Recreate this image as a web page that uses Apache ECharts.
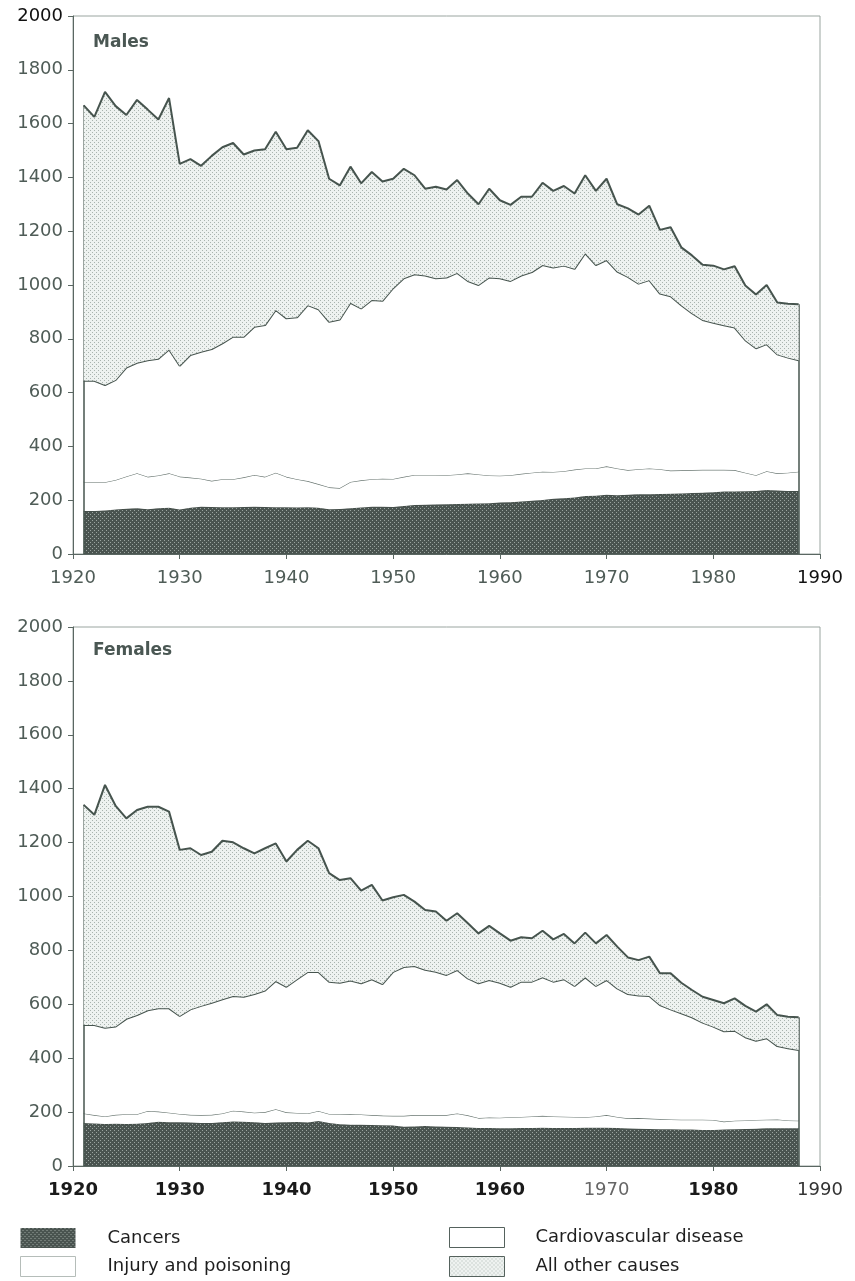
<!DOCTYPE html>
<html><head><meta charset="utf-8">
<script src="https://cdn.jsdelivr.net/npm/echarts@6/dist/echarts.min.js"></script>
<style>html,body{margin:0;padding:0;background:#fff}#c{width:855px;height:1281px}</style>
</head><body><div id="c"></div>
<script>
// ---- axis categories (years) ----
const axisYears = ['1920','1921','1922','1923','1924','1925','1926','1927','1928','1929',
'1930','1931','1932','1933','1934','1935','1936','1937','1938','1939',
'1940','1941','1942','1943','1944','1945','1946','1947','1948','1949',
'1950','1951','1952','1953','1954','1955','1956','1957','1958','1959',
'1960','1961','1962','1963','1964','1965','1966','1967','1968','1969',
'1970','1971','1972','1973','1974','1975','1976','1977','1978','1979',
'1980','1981','1982','1983','1984','1985','1986','1987','1988','1989','1990'];
const firstDataYear = '1921';
const lastDataYear = '1988';
const yTickValues = [0,200,400,600,800,1000,1200,1400,1600,1800,2000];
const causes = ['Cancers','Injury and poisoning','Cardiovascular disease','All other causes'];

// ---- Males, 1921-1988 ----
const maleCancers = [160,160,162,165,168,170,166,170,172,165,172,176,175,174,174,175,176,175,174,174,173,174,172,166,167,170,173,176,176,175,178,182,183,184,185,186,187,188,189,191,192,195,198,201,205,207,210,216,217,220,218,220,222,222,223,224,225,227,228,230,232,232,233,234,238,236,234,234];
const maleInjury = [108,107,105,110,120,130,121,122,128,123,112,104,97,104,104,110,118,112,128,113,105,97,88,82,78,98,101,102,104,104,109,112,111,110,108,110,113,108,103,100,101,103,104,105,100,101,104,102,101,106,100,92,93,96,92,86,86,85,85,83,81,80,69,59,70,64,68,72];
const maleCardio = [376,377,361,372,405,411,433,434,460,412,456,472,490,505,530,523,551,564,605,589,602,654,650,615,627,666,639,666,661,709,738,746,741,731,735,749,715,704,736,734,722,737,746,768,760,764,746,800,756,767,732,718,690,700,653,648,614,583,557,547,537,530,493,472,472,442,428,414];
const maleOther = [1024,981,1090,1018,939,977,932,889,935,750,728,691,718,729,720,677,655,654,663,629,630,650,625,532,498,506,465,476,444,407,407,368,323,340,327,345,325,300,330,290,283,293,280,306,285,296,280,290,276,302,250,255,257,277,237,257,215,215,205,212,208,228,203,200,220,193,200,208];

// ---- Females, 1921-1988 ----
const femaleCancers = [160,158,156,157,156,157,160,164,162,162,161,160,160,162,165,164,162,160,161,162,163,161,167,160,155,153,153,152,151,150,146,147,148,147,146,145,143,141,141,140,140,141,141,142,141,141,141,142,142,142,141,139,138,137,136,136,135,135,134,134,135,136,137,138,140,140,140,140];
const femaleInjury = [35,31,28,33,36,35,44,38,36,31,29,29,30,33,40,38,36,40,50,37,34,34,37,33,37,40,38,37,36,36,40,42,41,42,43,50,45,37,39,39,41,41,43,44,43,42,41,39,42,47,41,38,40,39,38,37,37,37,38,37,30,32,32,33,32,33,29,28];
const femaleCardio = [328,334,329,328,354,368,374,383,387,364,391,405,416,424,426,426,440,451,475,466,496,525,516,491,488,495,487,504,488,534,552,553,539,532,520,532,508,500,510,501,484,502,500,514,500,510,486,519,484,501,477,461,455,455,423,408,395,380,360,346,335,334,309,294,302,272,268,262];
const femaleOther = [817,780,901,818,744,761,755,748,730,616,598,560,560,588,570,551,522,528,511,465,480,487,459,403,381,380,344,350,310,277,268,239,222,223,201,211,205,185,201,183,171,165,161,173,157,168,158,166,158,167,155,136,131,146,118,134,113,101,96,99,104,120,116,108,126,115,117,122];

// ---- helpers ----
const startIdx = axisYears.indexOf(firstDataYear);
function pad(vals) {
  const out = axisYears.map(() => null);
  vals.forEach((v, i) => { out[startIdx + i] = v; });
  return out;
}
function pattern(bg, fg) {
  const c = document.createElement('canvas'); c.width = 4; c.height = 4;
  const g = c.getContext('2d');
  g.fillStyle = bg; g.fillRect(0, 0, 4, 4);
  g.fillStyle = fg; g.fillRect(0, 0, 1, 1); g.fillRect(2, 2, 1, 1);
  return { image: c, repeat: 'repeat' };
}
const darkPat = pattern('#4a5450', '#9aa49f');
const lightPat = pattern('#eef2f0', '#a9b3ae');
const lineCol = '#46544e';
const axisCol = '#5a6762';
const txtCol = '#4f5c57';
const FONT = 'DejaVu Sans';

function seriesFor(prefix, gi, c, inj, cv, oth) {
  const n = c.length - 1;
  const first = c[0] + inj[0] + cv[0] + oth[0];
  const last = c[n] + inj[n] + cv[n] + oth[n];
  const common = { type: 'line', stack: prefix, xAxisIndex: gi, yAxisIndex: gi, symbol: 'none', connectNulls: false, silent: true };
  return [
    Object.assign({}, common, { name: causes[0], data: pad(c), z: 2,
      lineStyle: { color: '#3f4944', width: 1 }, itemStyle: { color: darkPat }, areaStyle: { color: darkPat, opacity: 1 } }),
    Object.assign({}, common, { name: causes[1], data: pad(inj), z: 3,
      lineStyle: { color: '#6b7873', width: 1.2 }, itemStyle: { color: '#ffffff' }, areaStyle: { color: '#ffffff', opacity: 1 } }),
    Object.assign({}, common, { name: causes[2], data: pad(cv), z: 4,
      lineStyle: { color: lineCol, width: 2 }, itemStyle: { color: '#ffffff' }, areaStyle: { color: '#ffffff', opacity: 1 } }),
    Object.assign({}, common, { name: causes[3], data: pad(oth), z: 5,
      lineStyle: { color: lineCol, width: 2 }, itemStyle: { color: lightPat }, areaStyle: { color: lightPat, opacity: 1 },
      markLine: { silent: true, symbol: 'none', label: { show: false }, animation: false,
        lineStyle: { color: lineCol, width: 1.5, type: 'solid' },
        data: [
          [{ coord: [firstDataYear, 0] }, { coord: [firstDataYear, first] }],
          [{ coord: [lastDataYear, 0] }, { coord: [lastDataYear, last] }]
        ] } })
  ];
}

function xAxisFor(gi, rich, fmt) {
  return {
    type: 'category', gridIndex: gi, data: axisYears, boundaryGap: false,
    axisLine: { lineStyle: { color: axisCol, width: 1 } },
    axisTick: { interval: (i) => i % 10 === 0, length: 5, lineStyle: { color: axisCol } },
    axisLabel: { interval: (i) => i % 10 === 0, margin: 15, fontSize: 18, fontFamily: FONT, color: txtCol,
      formatter: fmt, rich: rich },
    splitLine: { show: false }
  };
}
function yAxisFor(gi, fmt, rich) {
  return {
    type: 'value', gridIndex: gi, min: yTickValues[0], max: yTickValues[yTickValues.length - 1], interval: 200,
    axisLine: { show: true, lineStyle: { color: axisCol, width: 1 } },
    axisTick: { show: true, length: 5, lineStyle: { color: axisCol } },
    axisLabel: { margin: 10, fontSize: 18, fontFamily: FONT, color: txtCol, formatter: fmt, rich: rich },
    splitLine: { show: false }
  };
}

const legendText = { fontSize: 18, fontFamily: FONT, color: '#1e1e1e' };
const chart = echarts.init(document.getElementById('c'), null, { renderer: 'canvas' });
chart.setOption({
  animation: false,
  backgroundColor: '#ffffff',
  title: [
    { text: 'Males', left: 88, top: 29, textStyle: { fontSize: 17, fontWeight: 'bold', color: '#4a5753', fontFamily: FONT } },
    { text: 'Females', left: 88, top: 637, textStyle: { fontSize: 17, fontWeight: 'bold', color: '#4a5753', fontFamily: FONT } }
  ],
  grid: [
    { left: 73, top: 16, width: 747, height: 538, show: true, borderColor: '#9aa5a0', borderWidth: 1, backgroundColor: 'transparent' },
    { left: 73, top: 627, width: 747, height: 539, show: true, borderColor: '#9aa5a0', borderWidth: 1, backgroundColor: 'transparent' }
  ],
  xAxis: [
    xAxisFor(0, { k: { color: '#111', fontSize: 18, fontFamily: FONT } },
      (v) => v === '1990' ? '{k|' + v + '}' : v),
    xAxisFor(1, {
      b: { color: '#1a1a1a', fontWeight: 'bold', fontSize: 18, fontFamily: FONT },
      n: { color: '#333', fontSize: 18, fontFamily: FONT },
      l: { color: '#666', fontSize: 18, fontFamily: FONT } },
      (v) => v === '1970' ? '{l|' + v + '}' : (v === '1990' ? '{n|' + v + '}' : '{b|' + v + '}'))
  ],
  yAxis: [
    yAxisFor(0, (v) => v === 2000 ? '{k|2000}' : String(v), { k: { color: '#111', fontSize: 18, fontFamily: FONT } }),
    yAxisFor(1, (v) => String(v), {})
  ],
  legend: [
    { orient: 'vertical', left: 20, bottom: 4, padding: 0, itemWidth: 55, itemHeight: 20, itemGap: 8, icon: 'rect',
      selectedMode: false,
      textStyle: Object.assign({ padding: [0, 0, 0, 27] }, legendText),
      data: [
        { name: causes[0], itemStyle: { color: darkPat, borderWidth: 0 } },
        { name: causes[1], itemStyle: { color: '#ffffff', borderColor: '#b5bdb9', borderWidth: 1 } }
      ] },
    { orient: 'vertical', left: 449, bottom: 4, padding: 0, itemWidth: 55, itemHeight: 20, itemGap: 8, icon: 'rect',
      selectedMode: false,
      textStyle: Object.assign({ padding: [0, 0, 0, 26] }, legendText),
      data: [
        { name: causes[2], itemStyle: { color: '#ffffff', borderColor: '#55625d', borderWidth: 1 } },
        { name: causes[3], itemStyle: { color: lightPat, borderColor: '#55625d', borderWidth: 1 } }
      ] }
  ],
  series: [].concat(
    seriesFor('m', 0, maleCancers, maleInjury, maleCardio, maleOther),
    seriesFor('f', 1, femaleCancers, femaleInjury, femaleCardio, femaleOther)
  )
});
</script>
</body></html>
